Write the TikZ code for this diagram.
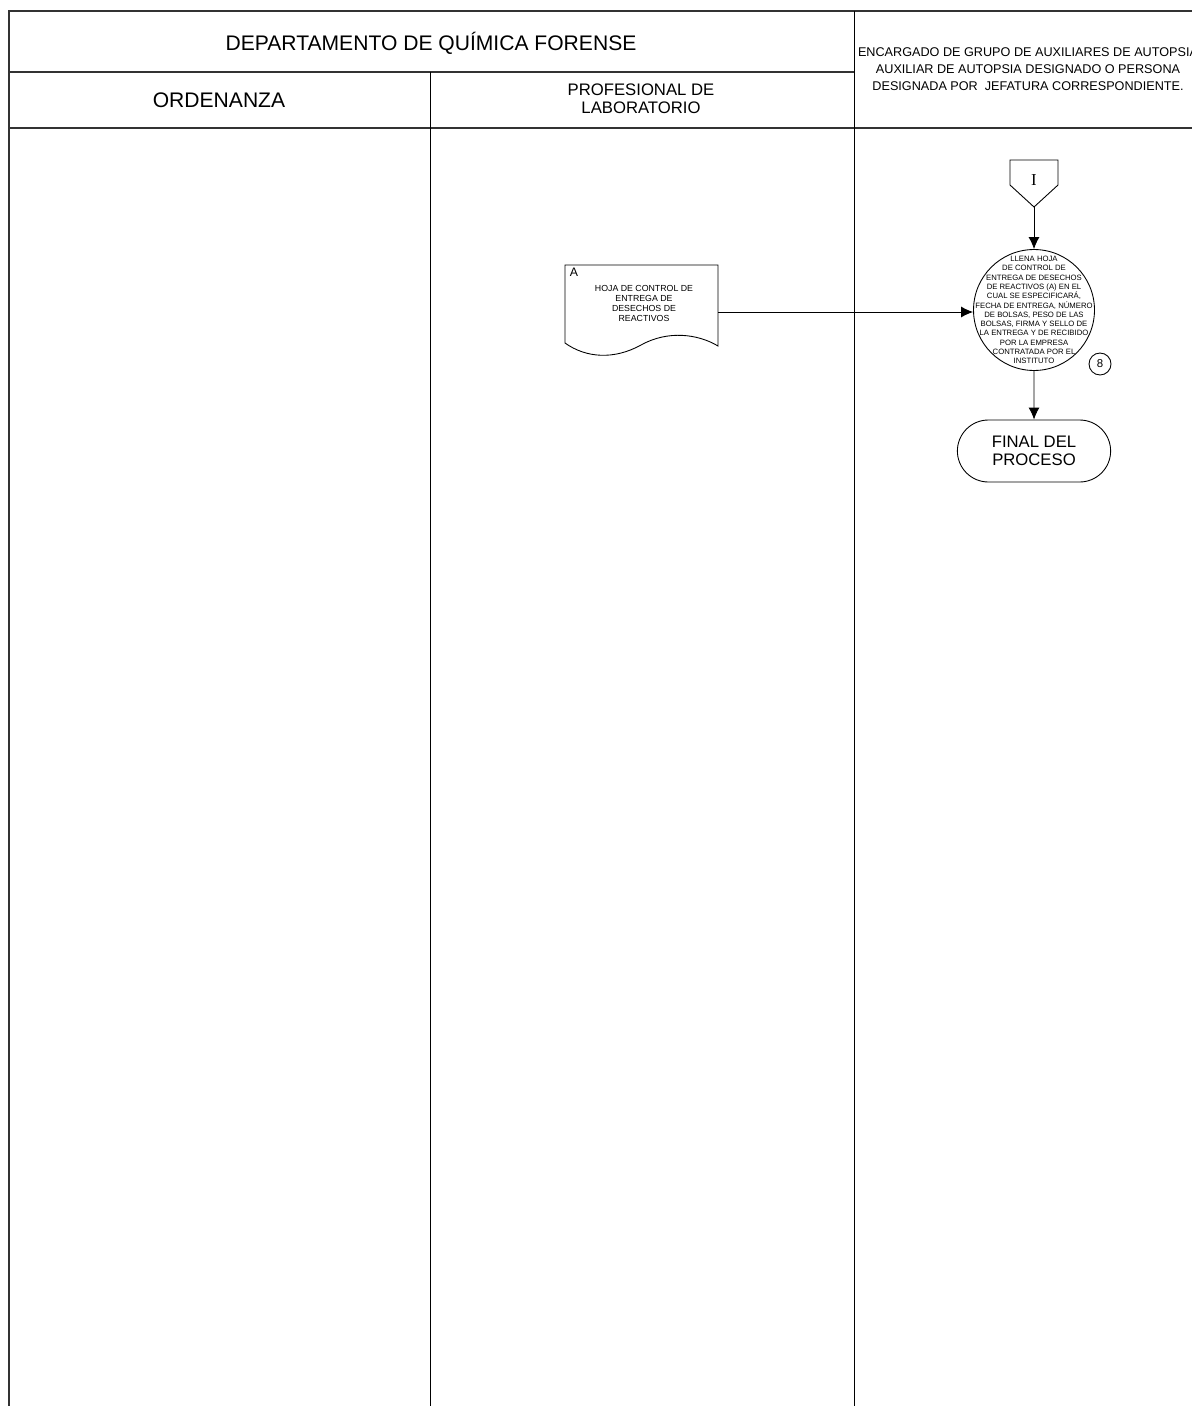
\documentclass[tikz,border=0pt]{standalone}
\usepackage{fontspec}
\setmainfont{Liberation Sans}
\newfontfamily\serifletra{Liberation Serif}
\usetikzlibrary{arrows.meta,shapes.misc,positioning}

\begin{document}
\begin{tikzpicture}
[x=0.02cm, y=-0.02cm, font=\small, line width=0.5pt]
\tikzstyle{proceso}=[circle, draw, inner sep=0mm, minimum size=2.42cm]
\tikzstyle{textoproceso}=[align=center, inner sep=0mm, font=\fontsize{4.4}{5.3}\selectfont]
\tikzstyle{terminal}=[rounded rectangle, draw, minimum width=3.3cm, minimum height=1.24cm, align=center, font=\fontsize{9.5}{10.6}\selectfont]
\tikzstyle{numero}=[circle, draw, inner sep=0mm, minimum size=0.44cm, font=\fontsize{6.5}{7}\selectfont]
\tikzstyle{flecha}=[-{Latex[length=2.4mm,width=2.2mm]}]
\tikzstyle{encabezado}=[align=center]

\useasboundingbox (0,0) rectangle (1192,1406);

% marco de la tabla
\draw[black!80, line width=0.7pt] (9,1420)--(9,11)--(1210,11);
\draw[black!80, line width=0.7pt] (9,72)--(854,72);
\draw[black!80, line width=0.7pt] (9,128)--(1210,128);
\draw (430,72)--(430,1420);
\draw (854,11)--(854,1420);

% encabezados
\node[encabezado, font=\fontsize{12}{14}\selectfont]	(DEP)	at (431,43)	{DEPARTAMENTO DE QUÍMICA FORENSE};
\node[encabezado, font=\fontsize{12}{14}\selectfont]	(ORD)	at (219,100)	{ORDENANZA};
\node[encabezado, font=\fontsize{9.5}{10.3}\selectfont]	(PROF)	at (641,99)	{PROFESIONAL DE\\LABORATORIO};
\node[encabezado, font=\fontsize{7.2}{9.6}\selectfont]	(ENC)	at (1028,69)	{ENCARGADO DE GRUPO DE AUXILIARES DE AUTOPSIA\\AUXILIAR DE AUTOPSIA DESIGNADO O PERSONA\\DESIGNADA POR \ JEFATURA CORRESPONDIENTE.};

% conector de pagina
\draw (1010,160)--(1058,160)--(1058,185)--(1034,207)--(1010,185)--cycle;
\node[font=\serifletra\fontsize{9.5}{10}\selectfont]	(I)	at (1034,180)	{I};
\coordinate	(Ipunta)	at (1034,207);

% documento
\draw (565,265)--(718,265)--(718,346) .. controls (698,334) and (668,330) .. (641,345) .. controls (614,360) and (586,358) .. (565,343)--cycle;
\node[font=\fontsize{7}{8}\selectfont]	(A)	at (574,272)	{A};
\node[align=center, font=\fontsize{5}{5.7}\selectfont]	(HOJA)	at (644,303)	{HOJA DE CONTROL DE\\ENTREGA DE\\DESECHOS DE\\REACTIVOS};
\coordinate	(HOJAder)	at (718,312);

% actividad 8
\node[proceso]	(P8)	at (1034,310)	{};
\node[textoproceso]	(T8)	at (P8)	{LLENA HOJA\\DE CONTROL DE\\ENTREGA DE DESECHOS\\DE REACTIVOS (A) EN EL\\CUAL SE ESPECIFICARÁ,\\FECHA DE ENTREGA, NÚMERO\\DE BOLSAS, PESO DE LAS\\BOLSAS, FIRMA Y SELLO DE\\LA ENTREGA Y DE RECIBIDO\\POR LA EMPRESA\\CONTRATADA POR EL\\INSTITUTO};
\node[numero]	(N8)	at (1100,364)	{8};
\node[terminal]	(FIN)	at (1034,451)	{FINAL DEL\\PROCESO};

\draw[flecha] (Ipunta)--(P8);
\draw[flecha] (HOJAder)--(P8.west|-HOJAder);
\draw[flecha] (P8)--(FIN);

\end{tikzpicture}
\end{document}
